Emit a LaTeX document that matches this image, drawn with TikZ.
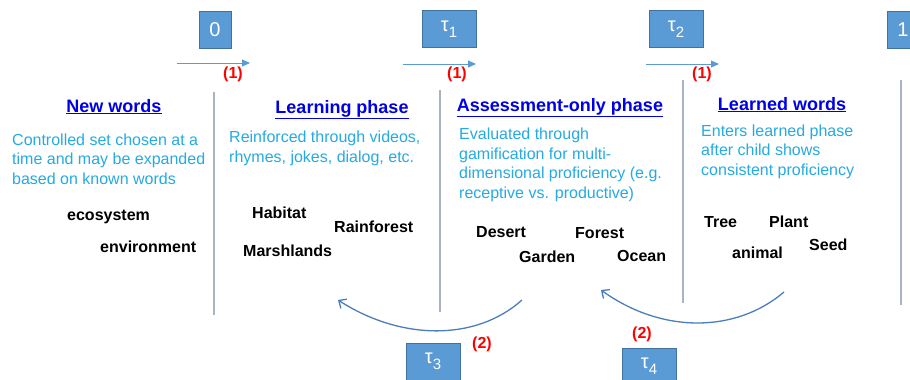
\documentclass[tikz,border=0pt]{standalone}
\usepackage{fontspec}
\setmainfont{Liberation Sans}
\usepackage{tikz}
\usetikzlibrary{arrows.meta, positioning}
\definecolor{boxblue}{RGB}{91,155,213}
\definecolor{boxedge}{RGB}{65,113,156}
\definecolor{headblue}{RGB}{0,0,230}
\definecolor{descblue}{RGB}{38,170,226}
\definecolor{linegray}{RGB}{170,180,195}
\definecolor{curveblue}{RGB}{74,126,187}
\newcommand{\taulabel}[1]{τ\raisebox{-0.3em}{\fontsize{15}{15}\selectfont #1}}
\tikzstyle{timebox} = [rectangle, minimum width=32pt, minimum
height=37pt, inner sep=0pt, draw=boxedge, line width=1pt, fill=boxblue, text=white,
font=\fontsize{20}{21}\selectfont]
\tikzstyle{taubox} = [timebox, minimum width=54pt]
\tikzstyle{heading} = [anchor=base, inner sep=0pt, text=headblue,
font=\bfseries\fontsize{18}{20}\selectfont]
\tikzstyle{desc} = [anchor=base west, inner sep=0pt, align=left, text=descblue,
font=\fontsize{16}{19.5}\selectfont]
\tikzstyle{word} = [anchor=base west, inner sep=0pt,
font=\bfseries\fontsize{16}{19}\selectfont]
\tikzstyle{steplabel} = [anchor=base west, inner sep=0pt, text=red,
font=\bfseries\fontsize{16}{18}\selectfont]
\tikzstyle{divider} = [draw=linegray, line width=1.5pt]
\tikzstyle{arrow} =
[line width=1pt, draw=boxblue, -{Triangle[length=8pt,width=7pt]}]
\tikzstyle{backarrow} =
[line width=1.3pt, draw=curveblue, -{Straight Barb[length=6pt,width=11pt]}]

\begin{document}
\begin{tikzpicture}[x=1pt, y=-1pt]
\useasboundingbox[fill=white] (0,0) rectangle (910,380);

% time points
\node(t0)[timebox] at (215,29.5){0};
\node(t1)[taubox] at (449,29){\taulabel{1}};
\node(t2)[taubox] at (676,29){\taulabel{2}};
\node(tend)[timebox] at (903,29.5){1};
\node(t3)[taubox] at (433,361.5){\taulabel{3}};
\node(t4)[taubox] at (649,366.5){\taulabel{4}};

% forward steps
\coordinate(s0) at (177,63);
\coordinate(e0) at (250,63);
\coordinate(s1) at (403,64);
\coordinate(e1) at (476,64);
\coordinate(s2) at (646,64);
\coordinate(e2) at (719,64);
\draw[arrow](s0) -- (e0);
\draw[arrow](s1) -- (e1);
\draw[arrow](s2) -- (e2);
\node(one0)[steplabel] at (223,78){(1)};
\node(one1)[steplabel] at (447,78){(1)};
\node(one2)[steplabel] at (692,78){(1)};

% columns
\draw[divider](214,92) -- (214,315);
\draw[divider](440,90) -- (440,312);
\draw[divider](683,80) -- (683,303);
\draw[divider](901,80) -- (901,305);

\node(newHead)[heading] at (114,112){\underline{New words}};
\node(learnHead)[heading] at (342,113){\underline{Learning phase}};
\node(assessHead)[heading] at (560,111){\underline{Assessment-only phase}};
\node(doneHead)[heading] at (782,110){\underline{Learned words}};

% base is the last line
\node(newDesc)[desc] at (12,184){Controlled set chosen at a\\time and may be expanded\\based on known words};
\node(learnDesc)[desc] at (229,162){Reinforced through videos,\\rhymes, jokes, dialog, etc.};
\node(assessDesc)[desc] at (459,198){Evaluated through\\gamification for multi-\\dimensional proficiency (e.g.\\receptive vs. productive)};
\node(doneDesc)[desc] at (701,175){Enters learned phase\\after child shows\\consistent proficiency};

% words
\node(ecosystem)[word] at (67,220){ecosystem};
\node(environment)[word] at (100,252){environment};
\node(habitat)[word] at (252,218){Habitat};
\node(rainforest)[word] at (334,232){Rainforest};
\node(marshlands)[word] at (243,256){Marshlands};
\node(desert)[word] at (476,237){Desert};
\node(forest)[word] at (575,238){Forest};
\node(garden)[word] at (519,262){Garden};
\node(ocean)[word] at (617,261){Ocean};
\node(tree)[word] at (704,227){Tree};
\node(plant)[word] at (769,227){Plant};
\node(animal)[word] at (732,258){animal};
\node(seed)[word] at (809,250){Seed};

% steps back
\coordinate(b1s) at (522,300);
\coordinate(b1e) at (338,300);
\coordinate(b2s) at (784,292);
\coordinate(b2e) at (601,290);
\draw[backarrow](b1s) .. controls (475,342) and (400,340) .. (b1e);
\draw[backarrow](b2s) .. controls (736,333) and (662,334) .. (b2e);
\node(two1)[steplabel] at (472,348){(2)};
\node(two2)[steplabel] at (632,338){(2)};

\end{tikzpicture}
\end{document}
